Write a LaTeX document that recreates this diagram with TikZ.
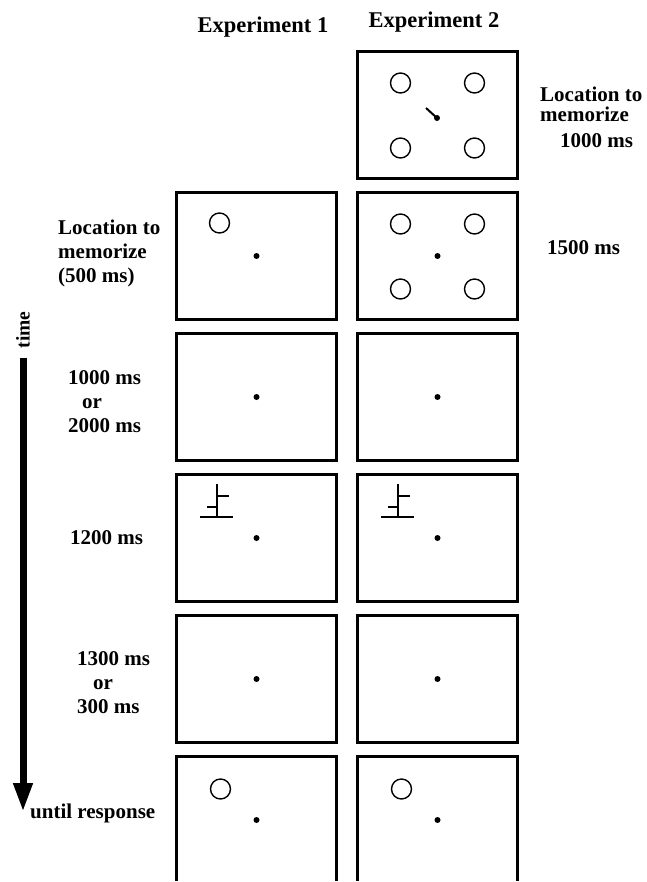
\documentclass[tikz,border=0pt]{standalone}
\usepackage{fontspec}
\setmainfont{Liberation Serif}
\usetikzlibrary{arrows.meta}

\tikzset{
  frame/.style={draw, line width=3.1pt, minimum width=160pt, minimum height=127pt, inner sep=0pt},
  ring/.style={draw, circle, line width=1.4pt, minimum size=20pt, inner sep=0pt},
  fix/.style={fill, circle, minimum size=6pt, inner sep=0pt},
  lab/.style={font=\fontsize{21}{24}\selectfont\bfseries, inner sep=0pt, align=left, anchor=west},
  stim/.style={line width=1.7pt},
}

\begin{document}
\begin{tikzpicture}[x=1pt,y=-1pt]
\useasboundingbox (0,0) rectangle (646,882);
\clip (0,0) rectangle (646,880);
% headers:
\node[lab, anchor=center, font=\fontsize{22.5}{26}\selectfont\bfseries] (h1) at (263,27) {Experiment 1};
\node[lab, anchor=center, font=\fontsize{22.5}{26}\selectfont\bfseries] (h2) at (434,22) {Experiment 2};
% frames, fixation dot in each:
\node[frame] (b1) at (437.5,115) {};
\node[fix] (fb1) at (437,118) {};
\foreach \r/\y in {2/256,3/397,4/538,5/679,6/820}{
  \node[frame] (a\r) at (256.5,\y) {};
  \node[frame] (b\r) at (437.5,\y) {};
  \node[fix] (fa\r) at (a\r.center) {};
  \node[fix] (fb\r) at (b\r.center) {};
}
% experiment 2, four placeholders + cue:
\foreach \r in {1,2}{
  \path (b\r.center) ++(-37,-32) node[ring] (ul\r) {};
  \path (b\r.center) ++(37,-32) node[ring] (ur\r) {};
  \path (b\r.center) ++(-37,33) node[ring] (ll\r) {};
  \path (b\r.center) ++(37,33) node[ring] (lr\r) {};
}
\draw[line width=2pt] (fb1.center) -- ++(-11,-10);
% single location, memorize and response:
\path (a2.center) ++(-37,-33) node[ring] (ma2) {};
\path (a6.center) ++(-36,-31) node[ring] (ma6) {};
\path (b6.center) ++(-36,-31) node[ring] (mb6) {};
% target:
\foreach \c in {a,b}{
\begin{scope}[shift={(\c4.center)}]
\draw[stim] (-56.5,-21) -- (-23.5,-21) (-39.5,-21) -- (-39.5,-54)
  (-39.5,-42) -- (-27.5,-42) (-49.5,-31) -- (-39.5,-31);
\end{scope}
}
% time axis:
\node[lab, anchor=center, rotate=90, font=\fontsize{19.5}{22}\selectfont\bfseries] (time) at (23,330) {time};
\coordinate (tend) at (23,812);
\draw[line width=7pt, shorten <=9pt, -{Triangle[length=29pt,width=18pt]}] (time.west) -- (tend);
% durations:
\node[lab] (l2) at (58,253) {Location to\\memorize\\(500 ms)};
\node[lab] (l3) at (68,402) {1000 ms\\\hspace*{14pt}or\\2000 ms};
\node[lab] (l4) at (70,538) {1200 ms};
\node[lab] (l5) at (77,683) {1300 ms\\\hspace*{16pt}or\\300 ms};
\node[lab] (l6) at (30,813) {until response};
\node[lab, font=\fontsize{21}{20}\selectfont\bfseries] (r1) at (540,104) {Location to\\memorize};
\node[lab] (r1t) at (560,141) {1000 ms};
\node[lab] (r2) at (547,248) {1500 ms};
\end{tikzpicture}
\end{document}
